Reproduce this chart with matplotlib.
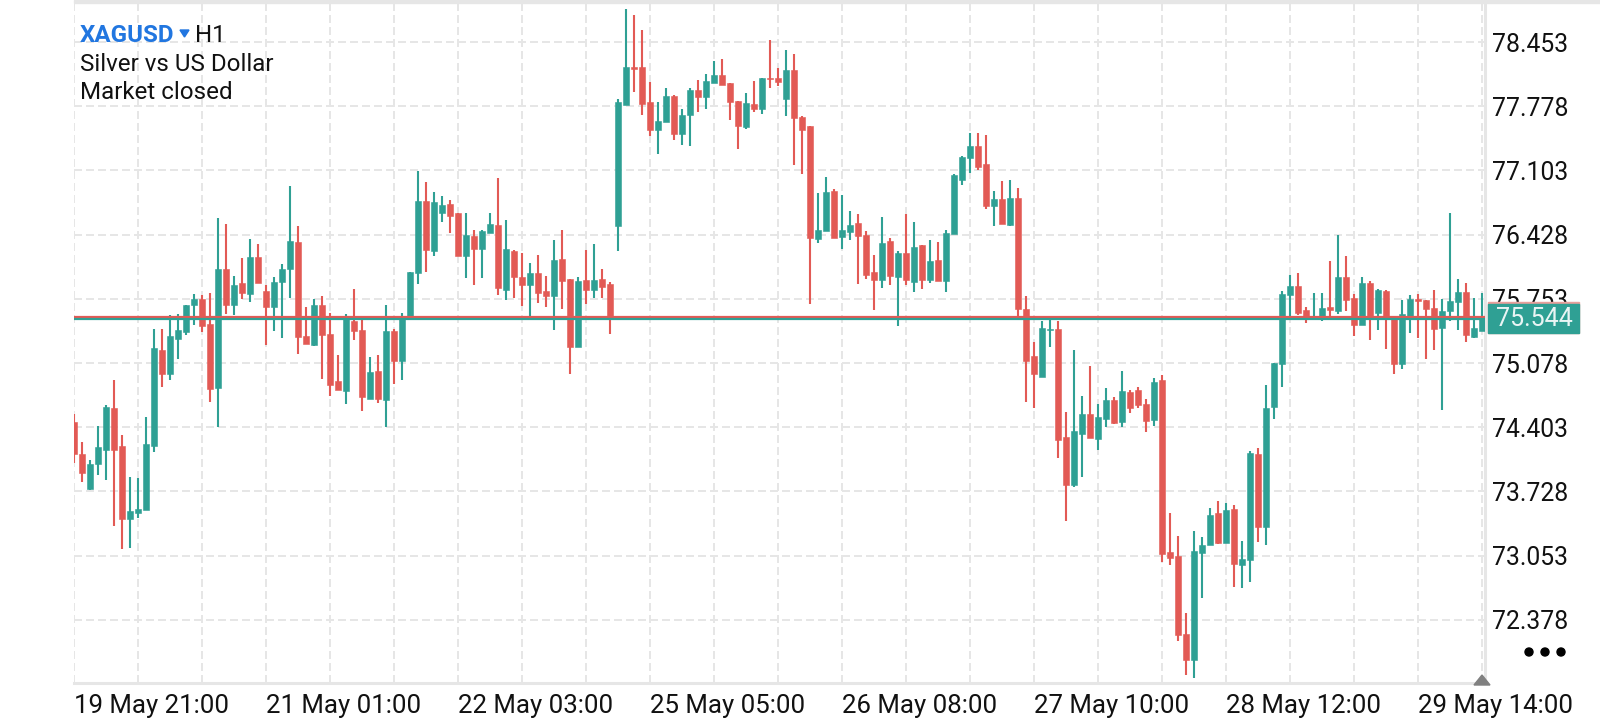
import numpy as np
import matplotlib
matplotlib.use("Agg")
import matplotlib.pyplot as plt
from matplotlib.patches import Rectangle, Polygon, Circle

plt.rcParams['font.family'] = ['Roboto', 'DejaVu Sans']

opens = [74.46,74.12,73.75,74.02,74.16,74.60,74.21,73.44,73.50,73.53,74.21,75.21,74.96,75.33,75.40,75.69,75.75,75.49,74.81,76.07,
         75.69,75.92,75.80,76.19,75.84,75.67,75.93,76.07,76.35,75.36,75.27,75.69,75.38,74.89,74.78,75.52,75.42,74.70,74.99,74.69,
         75.41,75.10,75.55,76.02,76.78,76.26,76.65,76.75,76.65,76.20,76.41,76.28,76.45,76.53,75.85,76.26,75.98,75.90,76.02,75.83,
         75.78,76.17,75.96,75.25,75.95,75.85,75.96,75.91,76.52,77.79,78.19,78.19,77.82,77.53,77.61,77.89,77.49,77.69,77.95,77.87,
         78.02,78.11,78.02,77.83,77.56,77.80,77.75,78.07,78.07,77.85,78.16,77.66,77.57,76.38,76.47,76.89,76.40,76.46,76.55,76.42,
         76.03,75.95,76.36,75.98,76.23,75.93,76.32,75.95,76.16,75.94,76.43,77.00,77.23,77.36,77.17,76.73,76.80,76.53,76.81,75.65,
         75.15,74.93,75.42,75.44,74.30,73.80,74.33,74.54,74.28,74.49,74.69,74.46,74.77,74.79,74.65,74.48,74.90,73.09,73.05,72.23,
         71.96,73.08,73.16,73.50,73.19,73.54,72.95,73.01,74.12,73.35,74.62,75.07,75.79,75.89,75.64,75.54,75.54,75.67,75.63,75.98,
         75.76,75.48,75.92,75.60,75.84,75.56,75.07,75.57,75.75,75.74,75.66,75.45,75.63,75.72,75.82,75.35,75.41]
highs = [74.54,74.25,74.06,74.42,74.64,74.90,74.32,73.88,73.87,74.51,75.44,75.44,75.58,75.59,75.69,75.80,75.79,75.81,76.60,76.54,
         75.99,76.18,76.38,76.33,75.90,75.98,76.12,76.94,76.52,75.67,75.75,75.78,75.60,75.16,75.59,75.86,75.54,75.14,75.16,75.69,
         75.44,75.60,76.03,77.10,76.98,76.88,76.83,76.79,76.65,76.66,76.48,76.48,76.66,77.02,76.58,76.27,76.23,76.13,76.21,75.99,
         76.37,76.48,75.96,75.98,76.27,76.33,76.07,75.93,77.85,78.80,78.74,78.58,78.03,77.82,77.97,77.90,77.75,77.97,78.05,78.12,
         78.25,78.27,78.02,77.83,77.92,78.04,78.07,78.47,78.18,78.37,78.33,77.67,77.57,76.87,77.03,76.91,76.84,76.68,76.64,76.47,
         76.21,76.61,76.39,76.26,76.64,76.56,76.32,76.37,76.35,76.48,77.06,77.25,77.50,77.50,77.47,76.89,76.99,77.00,76.92,75.78,
         75.30,75.52,75.54,75.52,74.56,75.21,74.73,75.05,74.65,74.82,74.72,74.99,74.79,74.83,74.70,74.92,74.95,73.50,73.26,72.45,
         73.31,73.25,73.55,73.63,73.61,73.58,73.21,74.15,74.18,74.85,75.08,75.83,76.00,76.02,75.67,75.81,75.81,76.15,76.42,76.20,
         75.80,75.98,75.94,75.86,75.85,75.57,75.74,75.79,75.80,75.74,75.85,75.75,76.66,75.96,75.92,75.76,75.81]
lows = [74.03,73.83,73.74,73.90,73.85,73.36,73.12,73.13,73.45,73.53,74.14,74.83,74.90,75.12,75.37,75.48,75.40,74.67,74.40,75.59,
        75.58,75.75,75.72,75.92,75.27,75.41,75.34,75.76,75.17,75.28,75.26,74.91,74.73,74.79,74.65,75.32,74.57,74.70,74.66,74.40,
        74.86,74.90,75.55,75.91,76.04,76.20,76.56,76.44,76.20,75.97,75.90,75.97,76.44,75.79,75.74,75.76,75.68,75.57,75.71,75.67,
        75.42,75.65,74.96,75.25,75.70,75.76,75.76,75.38,76.26,77.79,77.93,77.69,77.46,77.28,77.61,77.42,77.37,77.36,77.72,77.75,
        78.02,78.00,77.63,77.33,77.54,77.72,77.70,77.97,77.99,77.67,77.16,77.07,75.70,76.34,76.47,76.39,76.28,76.37,75.91,75.96,
        75.64,75.87,75.90,75.47,75.90,75.82,75.86,75.92,75.94,75.82,76.43,76.95,77.08,77.11,76.70,76.52,76.54,76.52,75.57,74.67,
        74.61,74.93,75.25,74.08,73.42,73.77,73.88,74.29,74.16,74.41,74.44,74.40,74.55,74.60,74.35,74.42,72.99,72.95,72.16,71.80,
        71.77,72.61,73.16,73.18,73.19,72.72,72.71,72.78,73.20,73.16,74.49,74.83,75.57,75.58,75.50,75.54,75.52,75.57,75.59,75.63,
        75.36,75.48,75.32,75.43,75.22,74.96,75.02,75.39,75.34,75.12,75.21,74.58,75.52,75.42,75.30,75.34,75.41]
closes = [74.12,73.92,74.02,74.19,74.62,74.16,73.44,73.52,73.54,74.23,75.24,74.96,75.36,75.42,75.69,75.75,75.47,74.80,76.07,75.69,
          75.90,75.81,76.19,75.92,75.67,75.93,76.07,76.36,75.35,75.28,75.69,75.37,74.85,74.79,75.55,75.41,74.72,74.98,74.70,75.41,
          75.10,75.55,76.03,76.78,76.27,76.77,76.74,76.62,76.20,76.42,76.28,76.47,76.54,75.87,76.28,75.98,75.90,76.02,75.81,75.78,
          76.16,75.94,75.25,75.94,75.85,75.95,75.88,75.57,77.82,78.19,78.17,77.80,77.53,77.62,77.89,77.49,77.69,77.95,77.87,78.04,
          78.11,78.00,77.82,77.57,77.81,77.75,78.07,78.06,78.03,78.16,77.65,77.53,76.39,76.48,76.88,76.39,76.48,76.53,76.41,76.00,
          75.95,76.34,75.99,76.23,75.95,76.30,75.95,76.15,75.94,76.45,77.05,77.24,77.36,77.14,76.73,76.80,76.54,76.81,75.65,75.10,
          74.96,75.45,75.44,74.27,73.80,74.36,74.54,74.29,74.51,74.69,74.45,74.78,74.60,74.64,74.47,74.88,73.07,73.03,72.22,71.96,
          73.10,73.16,73.48,73.19,73.53,72.96,73.02,74.13,73.35,74.61,75.08,75.80,75.89,75.60,75.55,75.57,75.66,75.64,75.98,75.74,
          75.48,75.92,75.57,75.85,75.57,75.07,75.59,75.75,75.73,75.65,75.44,75.62,75.73,75.82,75.37,75.45,75.54]

price_ticks = [78.453, 77.778, 77.103, 76.428, 75.753, 75.078, 74.403, 73.728, 73.053, 72.378]
date_labels = ['19 May 21:00', '21 May 01:00', '22 May 03:00', '25 May 05:00',
               '26 May 08:00', '27 May 10:00', '28 May 12:00', '29 May 14:00']
last_bid = 75.544
last_ask = 75.564

RED = '#e25a55'
GREEN = '#2fa094'
GRID = '#e6e6e6'
W, H = 1600, 720


def fx(px):
    return px / W


def fy(py):
    return 1 - py / H


fig = plt.figure(figsize=(16, 7.2), dpi=100, facecolor='white')
ax = fig.add_axes([fx(74), fy(683), fx(1485 - 74), (683 - 2) / H])
ax.set_xlim(0, 176.375)
ax.set_ylim(71.7135, 78.8736)

o = np.array(opens)
c = np.array(closes)
x = np.arange(len(o))
colors = [GREEN if b > a else RED for a, b in zip(o, c)]

ax.vlines(x, lows, highs, colors=colors, linewidth=1.5, zorder=3)
ax.bar(x, np.abs(c - o), bottom=np.minimum(o, c), width=0.75, color=colors,
       edgecolor=colors, linewidth=0.4, zorder=4)

ax.axhline(last_ask, color=RED, linewidth=1.6, zorder=5)
ax.axhline(last_bid, color=GREEN, linewidth=1.6, zorder=5)

# every third vertical grid line carries a date
ticks = np.arange(0, 177, 8)
ax.set_xticks(ticks)
ax.set_xticklabels([date_labels[t // 24] if t % 24 == 0 else '' for t in ticks], ha='left')
ax.set_yticks(price_ticks)
ax.set_yticklabels(['%.3f' % p for p in price_ticks])
ax.yaxis.tick_right()
ax.tick_params(axis='both', length=0, labelcolor='#111111')
ax.tick_params(axis='x', pad=8, labelsize=18.6)
ax.tick_params(axis='y', pad=5, labelsize=17.8)
ax.grid(True, color=GRID, linewidth=1.44, linestyle=(0, (4, 2)), zorder=0)
ax.set_axisbelow(True)

for name in ['left', 'top']:
    ax.spines[name].set_visible(False)
for name in ['bottom', 'right']:
    ax.spines[name].set_color(GRID)
    ax.spines[name].set_linewidth(2.2)

# band along the top edge
fig.patches.append(Rectangle((0.04625, fy(3)), 1, 3 / H, transform=fig.transFigure,
                             color=GRID, zorder=1))

# last price tag
fig.patches.append(Rectangle((fx(1488), fy(333)), 91 / W, 31 / H, transform=fig.transFigure,
                             color='#e8a09c', zorder=2))
fig.patches.append(Rectangle((fx(1488), fy(333)), 91 / W, 29 / H, transform=fig.transFigure,
                             color=GREEN, zorder=2))
fig.text(fx(1496), fy(319), '%.3f' % last_bid, color='#ffffff', fontsize=18, alpha=0.9,
         ha='left', va='center', zorder=3)

# header
fig.text(fx(80), fy(42), 'XAGUSD', color='#2176e0', fontsize=17.4, fontweight='bold',
         va='baseline', ha='left')
fig.patches.append(Polygon([(fx(180), fy(30)), (fx(189), fy(30)), (fx(184.5), fy(37))],
                           closed=True, transform=fig.transFigure, color='#2176e0', zorder=2))
fig.text(fx(195), fy(42), 'H1', color='#111111', fontsize=17.4, va='baseline', ha='left')
fig.text(fx(80), fy(71), 'Silver vs US Dollar', color='#111111', fontsize=17.4, va='baseline', ha='left')
fig.text(fx(80), fy(99), 'Market closed', color='#111111', fontsize=17.4, va='baseline', ha='left')

# menu dots and scroll marker
dot_ax = fig.add_axes([0, 0, 1, 1], facecolor='none')
dot_ax.set_xlim(0, W)
dot_ax.set_ylim(H, 0)
dot_ax.axis('off')
for dx in [1529, 1545, 1561]:
    dot_ax.add_patch(Circle((dx, 652), 4, color='#000000'))
dot_ax.add_patch(Polygon([(1474, 685), (1490, 685), (1482, 675)], closed=True, color='#808080'))

fig.savefig('out.png', dpi=100, facecolor='white')
